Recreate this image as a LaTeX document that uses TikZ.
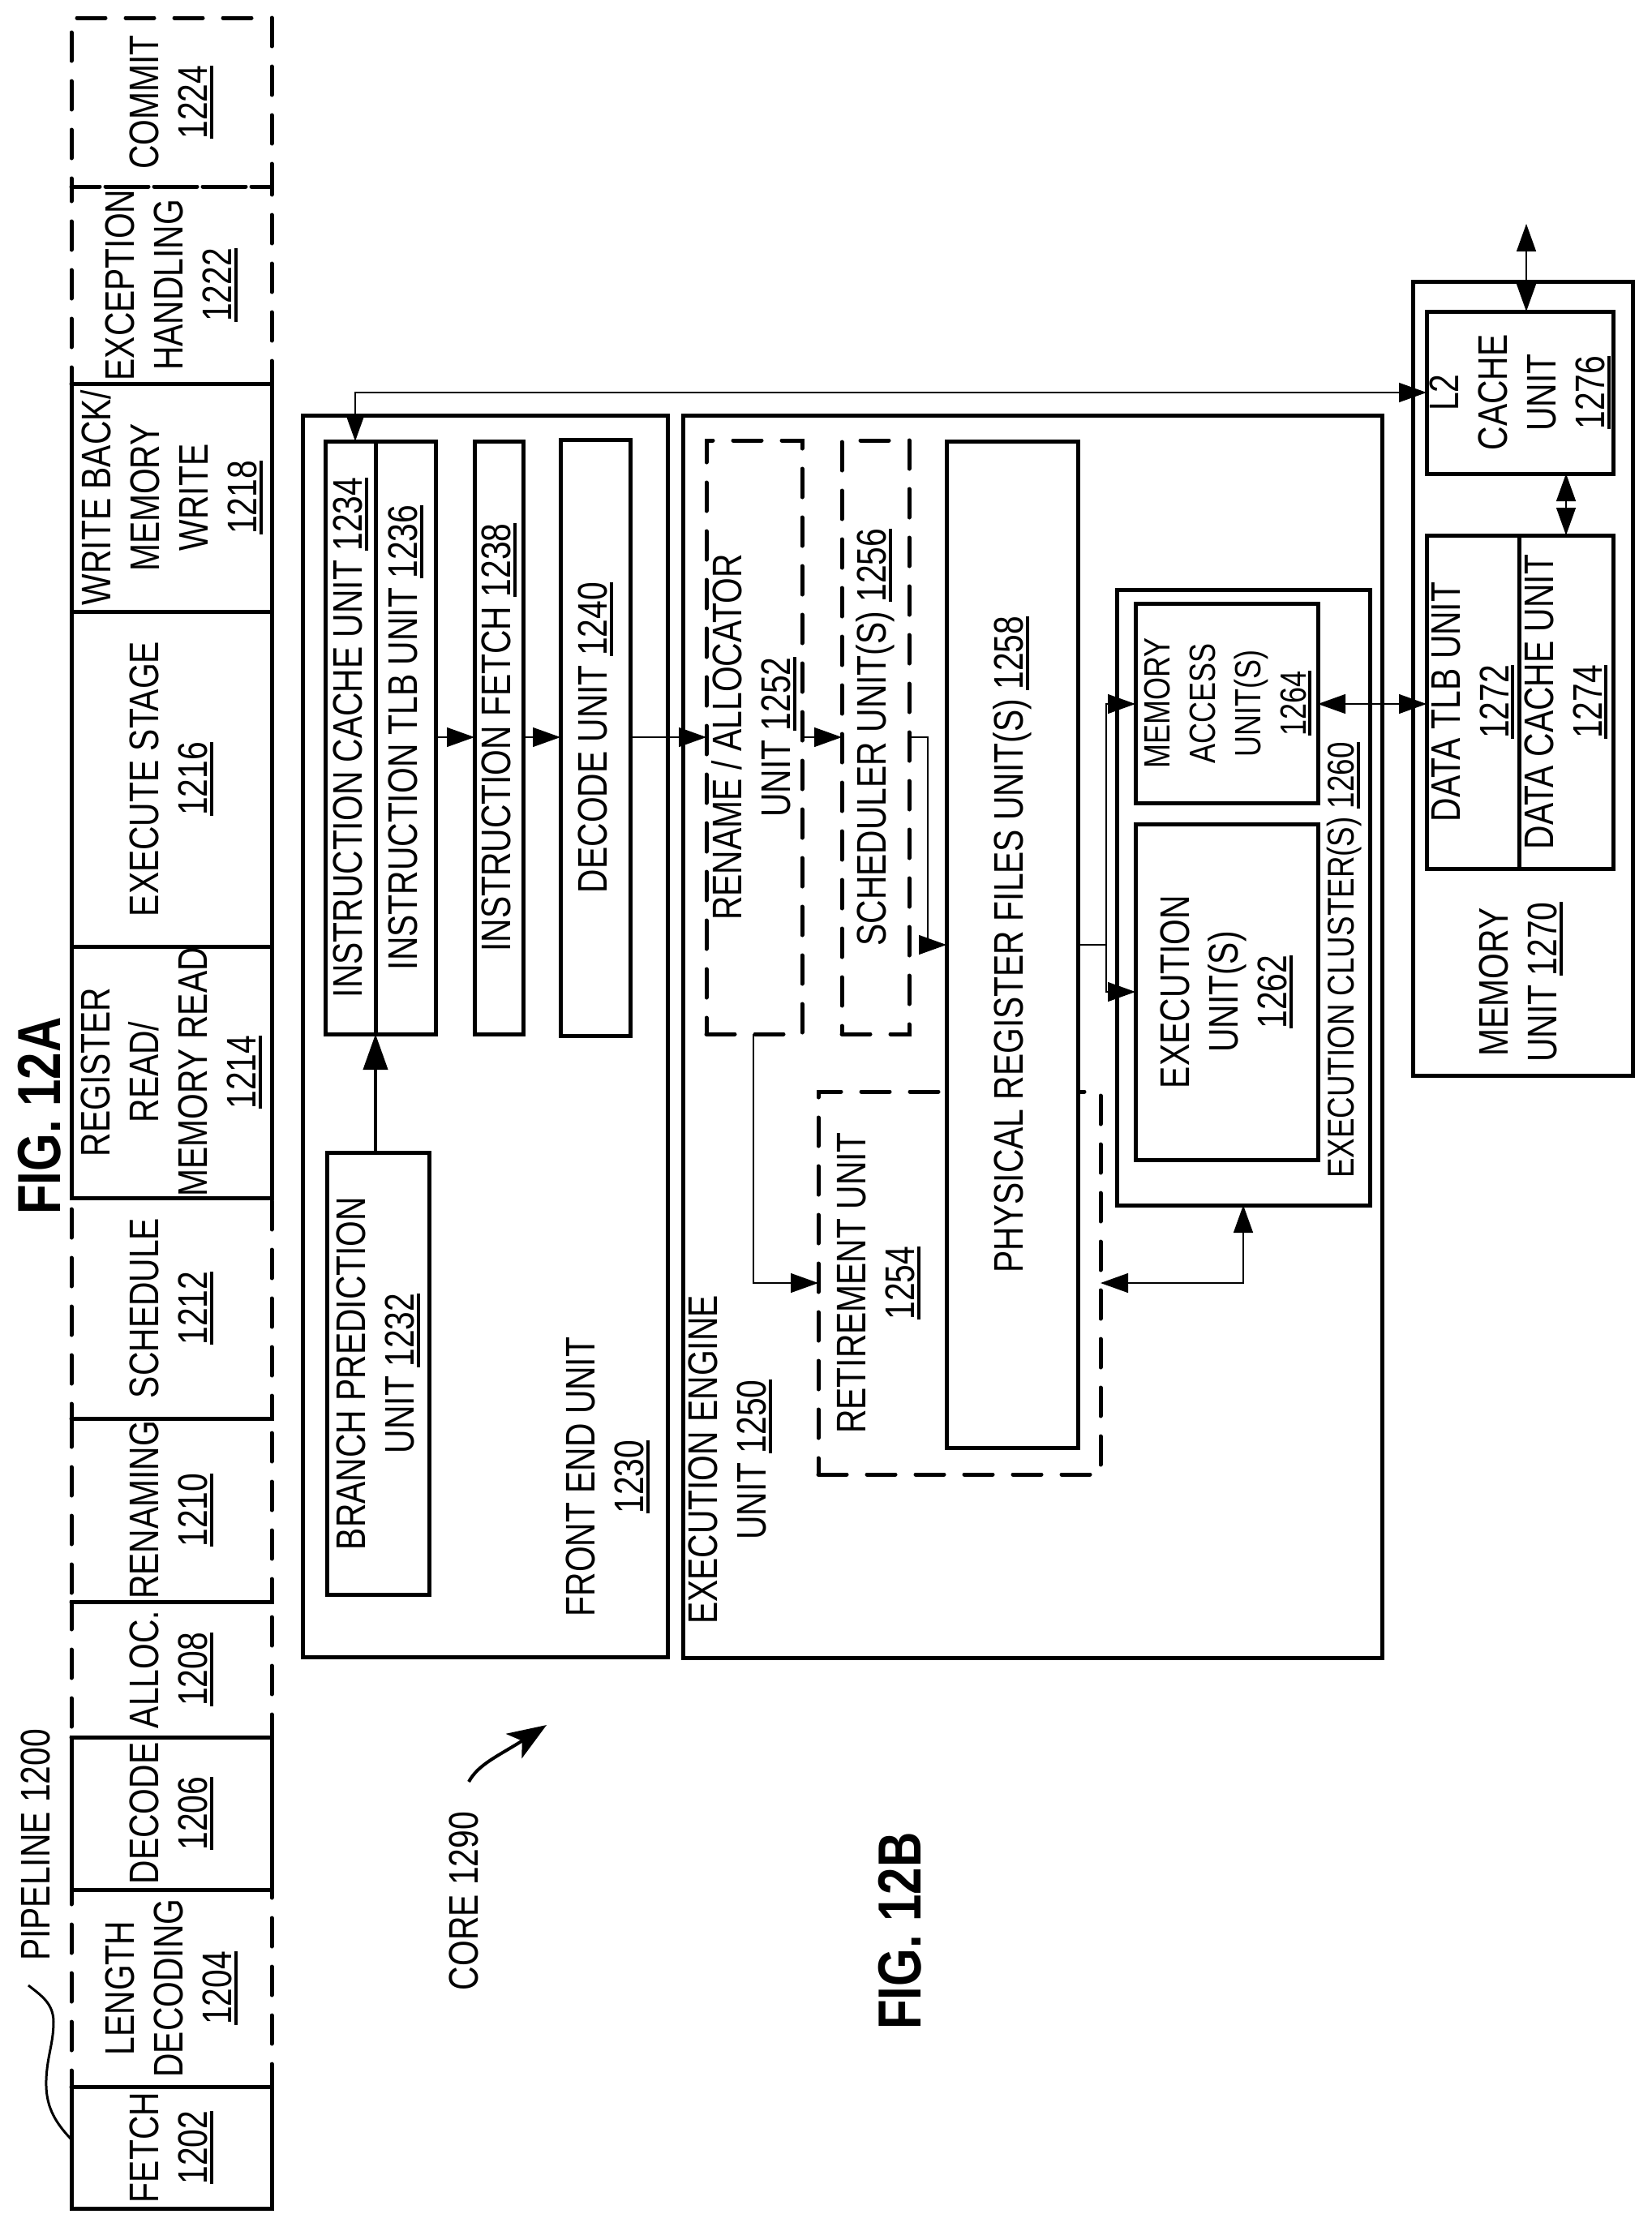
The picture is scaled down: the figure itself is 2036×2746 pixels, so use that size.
\documentclass[tikz,border=0pt]{standalone}
\usepackage{fontspec}
\setmainfont{Liberation Sans}[FakeStretch=0.80]
\usetikzlibrary{arrows.meta}
\newcommand\un[1]{\vtop{\hbox{#1}\kern1.5pt\hrule height 2pt}}
\newcommand\lfont{\fontsize{25.5}{30}\selectfont}
\newcommand\sfont{\fontsize{23}{28}\selectfont}
\tikzset{
  box/.style={draw,line width=2.5pt,inner sep=0pt,outer sep=0pt,line join=miter},
  dbox/.style={box,line cap=round,dash pattern=on 17.5pt off 12.5pt},
  wbox/.style={box,fill=white},
  lab/.style={rotate=90,align=center,inner sep=0pt,outer sep=0pt,font=\lfont},
  rail/.style={line width=2.5pt},
  wire/.style={line width=.7pt,-{Triangle[length=17pt,width=12pt]}},
  wiree/.style={line width=.7pt,{Triangle[length=17pt,width=12pt]}-{Triangle[length=17pt,width=12pt]}},
  bigwire/.style={line width=2pt,-{Triangle[length=22pt,width=15pt]}},
}
\newcommand\bx[7][box]{%
  \pgfmathsetmacro\bxw{(#5-#3)/2}%
  \pgfmathsetmacro\bxh{(#6-#4)/2}%
  \node[#1,minimum width=\bxw pt,minimum height=\bxh pt] (#2) at ({(#3+#5)/2},{(#4+#6)/2}) {};
  \if\relax\detokenize{#7}\relax\else
    \node[lab] (#2t) at ({(#3+#5)/2},{(#4+#6)/2}) {#7};
  \fi
}
\begin{document}
\begin{tikzpicture}[x=0.5pt,y=-0.5pt]
\useasboundingbox (0,0) rectangle (2036,2746);
% --- pipeline, dashed stages first
\bx[dbox]{commit}{88}{22}{335}{230}{COMMIT\\\un{1224}}
\bx[dbox]{exc}{88}{230}{335}{473}{EXCEPTION\\HANDLING\\\un{1222}}
\bx[dbox]{sched}{88}{1477}{335}{1749}{SCHEDULE\\\un{1212}}
\bx[dbox]{renm}{88}{1749}{335}{1975}{RENAMING\\\un{1210}}
\bx[dbox]{alloc}{88}{1975}{335}{2142}{ALLOC.\\\un{1208}}
\bx[dbox]{lend}{88}{2330}{335}{2573}{LENGTH\\DECODING\\\un{1204}}
\draw[rail] (sched.south west) -- (sched.south east);
\draw[rail] (renm.south west) -- (renm.south east);
% solid stages
\bx{wb}{88}{473}{335}{754}{WRITE BACK/\\MEMORY\\WRITE\\\un{1218}}
\bx{exe}{88}{754}{335}{1167}{EXECUTE STAGE\\\un{1216}}
\bx{rr}{88}{1167}{335}{1477}{REGISTER\\READ/\\MEMORY READ\\\un{1214}}
\bx{dec}{88}{2142}{335}{2330}{DECODE\\\un{1206}}
\bx{fetch}{88}{2573}{335}{2723}{FETCH\\\un{1202}}
% titles
\node[lab,font=\bfseries\fontsize{37.5}{42}\selectfont] (figa) at (49,1376) {FIG. 12A};
\node[lab,font=\bfseries\fontsize{37.5}{42}\selectfont] (figb) at (1110,2381) {FIG. 12B};
\node[lab] (plabel) at (44,2275) {PIPELINE 1200};
\node[lab] (clabel) at (572,2344) {CORE 1290};
% leaders
\coordinate (pa) at (88,2638);
\coordinate (pb) at (35,2448);
\draw[line width=1.5pt] (pa) .. controls (66,2615) and (56,2595) .. (57,2565) .. controls (58,2535) and (66,2520) .. (66,2493) .. controls (66,2470) and (50,2460) .. (pb);
\coordinate (ca) at (578,2197);
\coordinate (cb) at (674,2127);
\draw[line width=2pt,-{Stealth[length=24pt,width=18pt,inset=6pt]}] (ca) .. controls (590,2175) and (615,2165) .. (cb);
% --- front end
\bx{fe}{373}{512}{823}{2043}{}
\node[lab] (fet) at (749,1821) {FRONT END UNIT\\\un{1230}};
\bx{bp}{403}{1421}{529}{1966}{BRANCH PREDICTION\\UNIT \un{1232}}
\bx{ic}{401}{544}{463}{1275}{INSTRUCTION CACHE UNIT \un{1234}}
\bx{tlb}{463}{544}{537}{1275}{INSTRUCTION TLB UNIT \un{1236}}
\bx{ifu}{585}{544}{645}{1275}{INSTRUCTION FETCH \un{1238}}
\bx{du}{691}{542}{777}{1277}{DECODE UNIT \un{1240}}
% --- execution engine
\bx{ee}{842}{512}{1704}{2044}{}
\node[lab] (eet) at (900,1800) {EXECUTION ENGINE\\UNIT \un{1250}};
\bx[dbox]{ren}{871}{543}{989}{1275}{RENAME / ALLOCATOR\\UNIT \un{1252}}
\bx[dbox]{sch}{1038}{543}{1121}{1275}{SCHEDULER UNIT(S) \un{1256}}
\bx[dbox]{ret}{1009}{1346}{1357}{1818}{}
\node[lab] (rett) at (1084,1582) {RETIREMENT UNIT\\\un{1254}};
\bx[wbox]{prf}{1167}{544}{1329}{1785}{PHYSICAL REGISTER FILES UNIT(S) \un{1258}}
\bx{cl}{1377}{727}{1689}{1486}{}
\node[lab,font=\sfont] (clt) at (1658,1184) {EXECUTION CLUSTER(S) \un{1260}};
\bx{mau}{1400}{744}{1625}{990}{}
\node[lab,font=\fontsize{22.5}{28}\selectfont] (maut) at (1514,867) {MEMORY\\ACCESS\\UNIT(S)\\\un{1264}};
\bx{eu}{1400}{1016}{1625}{1430}{EXECUTION\\UNIT(S)\\\un{1262}}
% --- memory unit
\bx{mu}{1742}{347}{2013}{1326}{}
\node[lab] (mut) at (1875,1211) {MEMORY\\UNIT \un{1270}};
\bx{l2}{1759}{384}{1989}{584}{L2\\CACHE\\UNIT\\\un{1276}}
\bx{dtlb}{1759}{660}{1873}{1071}{DATA TLB UNIT\\\un{1272}}
\bx{dcu}{1873}{660}{1989}{1071}{DATA CACHE UNIT\\\un{1274}}
% --- connectors
\coordinate (r909) at (0,909);
\coordinate (r484) at (0,484);
\coordinate (r1165) at (0,1165);
\coordinate (r868) at (0,868);
\coordinate (r1223) at (0,1223);
\coordinate (r1582) at (0,1582);
\coordinate (x438) at (438,0);
\coordinate (x929) at (929,0);
\coordinate (x1144) at (1144,0);
\coordinate (x1364) at (1364,0);
\coordinate (x1533) at (1533,0);
\coordinate (x1882) at (1882,0);
\coordinate (x1931) at (1931,0);
\coordinate (top) at (1882,276);
\draw[bigwire] (bp.north -| ic.east) -- (ic.south east);
\draw[wiree] (x438 |- ic.north) |- (l2.west |- r484);
\draw[wire] (tlb.east |- r909) -- (ifu.west |- r909);
\draw[wire] (ifu.east |- r909) -- (du.west |- r909);
\draw[wire] (du.east |- r909) -- (ren.west |- r909);
\draw[wire] (ren.east |- r909) -- (sch.west |- r909);
\draw[wire] (sch.east |- r909) -- (x1144 |- r909) -- (x1144 |- r1165) -- (prf.west |- r1165);
\draw[wire] (prf.east |- r1165) -- (x1364 |- r1165) -- (x1364 |- r868) -- (mau.west |- r868);
\draw[wire] (x1364 |- r1165) -- (x1364 |- r1223) -- (eu.west |- r1223);
\draw[wiree] (mau.east |- r868) -- (dtlb.west |- r868);
\draw[wiree] (x1931 |- l2.south) -- (x1931 |- dcu.north);
\draw[wiree] (top) -- (x1882 |- l2.north);
\draw[wire] (x929 |- ren.south) |- (ret.west |- r1582);
\draw[wiree] (ret.east |- r1582) -| (x1533 |- cl.south);
\end{tikzpicture}
\end{document}
